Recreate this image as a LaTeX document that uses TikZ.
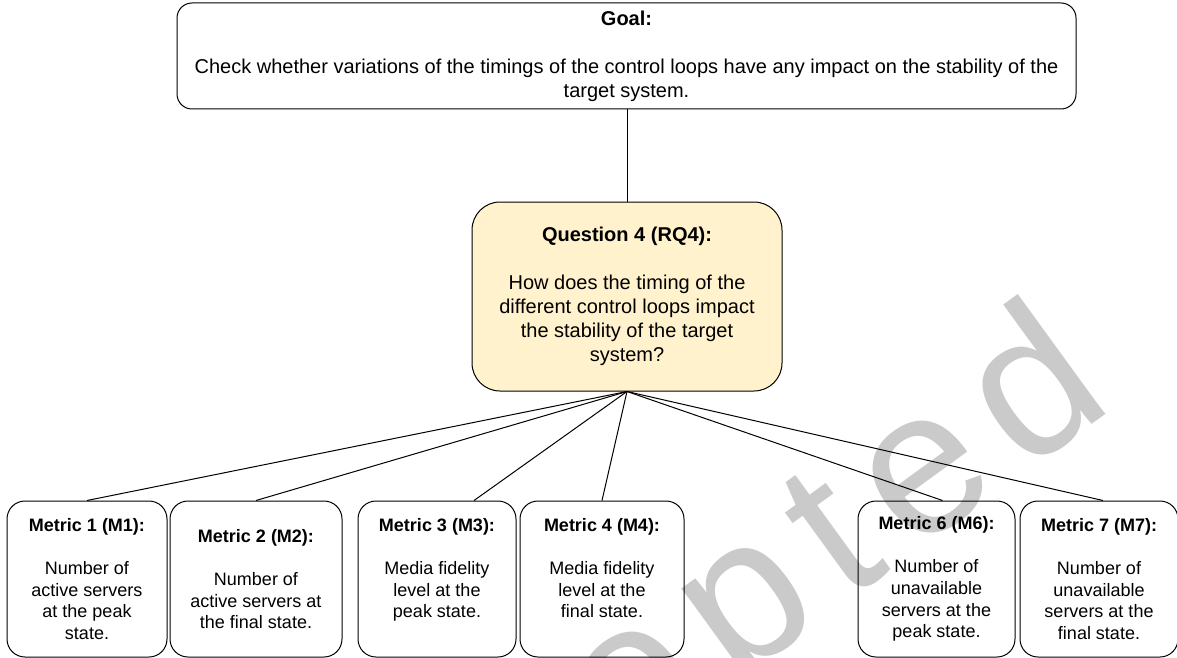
\documentclass[tikz,border=0pt]{standalone}
\usepackage{fontspec}
\setmainfont{Liberation Sans}
\newfontfamily\wmfont[LetterSpace=12]{Liberation Sans}
\definecolor{qfill}{HTML}{FFF2CC}
\definecolor{wm}{RGB}{202,202,202}
\begin{document}
\begin{tikzpicture}[x=1pt,y=-1pt,
  goalbox/.style={draw=black, line width=1pt, rounded corners=15pt, minimum width=899pt, minimum height=106pt, align=center, inner sep=0pt, font=\fontsize{20}{24}\selectfont},
  qbox/.style={draw=black, fill=qfill, line width=1pt, rounded corners=28pt, minimum width=310pt, minimum height=189pt, align=center, inner sep=0pt, font=\fontsize{20}{24}\selectfont},
  mbox/.style={draw=black, line width=1pt, rounded corners=18pt, minimum height=156pt, align=center, inner sep=0pt, font=\fontsize{18}{21.6}\selectfont},
  link/.style={draw=black, line width=1pt},
  watermark/.style={text=wm, font=\wmfont\fontsize{205}{205}\selectfont, rotate=36, anchor=base east, inner sep=0pt}]
\useasboundingbox (0,0) rectangle (1177,658);
% watermark
\node[watermark] (wmark) at (1117,406) {Accepted};
% boxes
\node[goalbox] (goal) at (626.5,56) {\textbf{Goal:}\\[24pt]Check whether variations of the timings of the control loops have any impact on the stability of the\\target system.};
\node[qbox] (q) at (627,296.5) {\textbf{Question 4 (RQ4):}\\[24pt]How does the timing of the\\different control loops impact\\the stability of the target\\system?};
\node[mbox, minimum width=160pt] (m1) at (87,579) {\textbf{Metric 1 (M1):}\\[21.6pt]Number of\\active servers\\at the peak\\state.};
\node[mbox, minimum width=172pt] (m2) at (256,579) {\textbf{Metric 2 (M2):}\\[21.6pt]Number of\\active servers at\\the final state.};
\node[mbox, minimum width=158pt] (m3) at (437,579) {\textbf{Metric 3 (M3):}\\[21.6pt]Media fidelity\\level at the\\peak state.\\\mbox{}};
\node[mbox, minimum width=164pt] (m4) at (602,579) {\textbf{Metric 4 (M4):}\\[21.6pt]Media fidelity\\level at the\\final state.\\\mbox{}};
\node[mbox, minimum width=157pt] (m6) at (936.5,579) {\textbf{Metric 6 (M6):}\\[21.6pt]Number of\\unavailable\\servers at the\\peak state.};
\node[mbox, minimum width=158pt] (m7) at (1099,579) {\textbf{Metric 7 (M7):}\\[21.6pt]Number of\\unavailable\\servers at the\\final state.};
% connectors
\draw[link] (q.north) -- (q.north |- goal.south);
\draw[link] (q.south) -- (m1.north);
\draw[link] (q.south) -- (m2.north);
\draw[link] (q.south) -- ([xshift=37pt]m3.north);
\draw[link] (q.south) -- (m4.north);
\draw[link] (q.south) -- ([xshift=6pt]m6.north);
\draw[link] (q.south) -- ([xshift=4pt]m7.north);
\end{tikzpicture}
\end{document}
